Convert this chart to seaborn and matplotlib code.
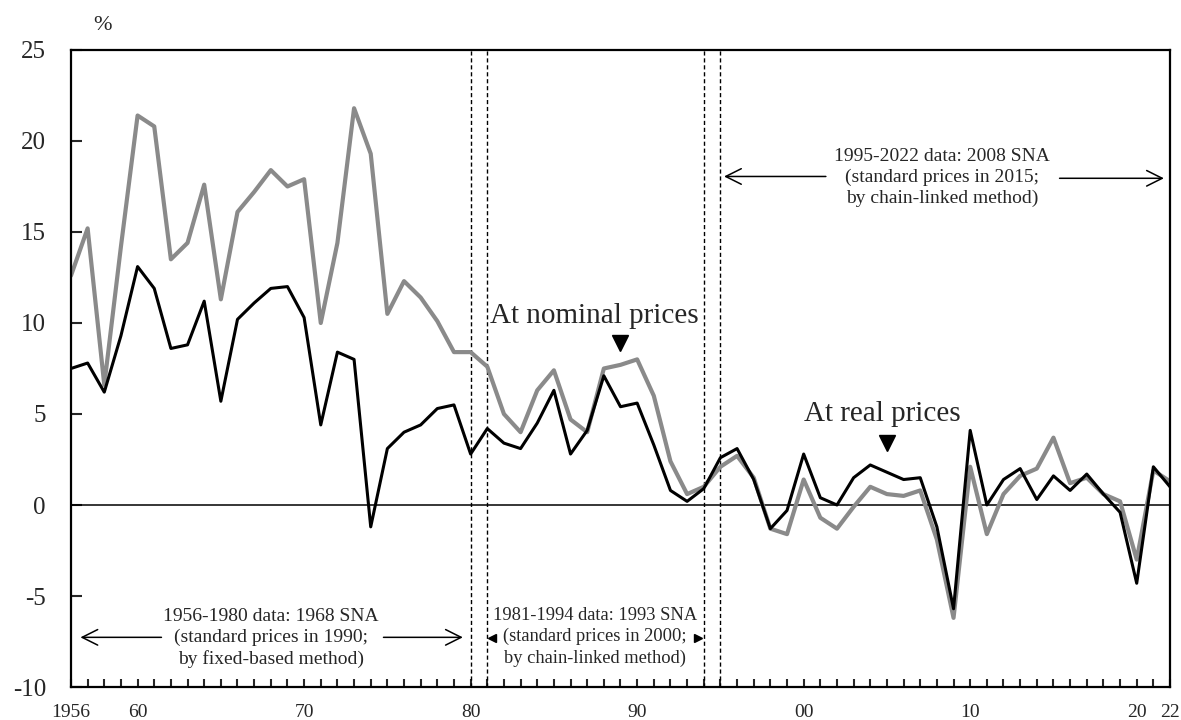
import matplotlib
matplotlib.use("Agg")
import matplotlib.pyplot as plt
import seaborn as sns
import pandas as pd

years = list(range(1956, 2023))

nominal = [12.6, 15.2, 6.6, 14.2, 21.4, 20.8, 13.5, 14.4, 17.6, 11.3,
           16.1, 17.2, 18.4, 17.5, 17.9, 10.0, 14.4, 21.8, 19.3, 10.5,
           12.3, 11.4, 10.1, 8.4, 8.4, 7.6, 5.0, 4.0, 6.3, 7.4,
           4.7, 4.0, 7.5, 7.7, 8.0, 6.0, 2.4, 0.6, 1.0, 2.1,
           2.7, 1.5, -1.3, -1.6, 1.4, -0.7, -1.3, -0.1, 1.0, 0.6,
           0.5, 0.8, -1.9, -6.2, 2.1, -1.6, 0.6, 1.6, 2.0, 3.7,
           1.2, 1.5, 0.6, 0.2, -3.0, 1.9, 1.3]

real = [7.5, 7.8, 6.2, 9.3, 13.1, 11.9, 8.6, 8.8, 11.2, 5.7,
        10.2, 11.1, 11.9, 12.0, 10.3, 4.4, 8.4, 8.0, -1.2, 3.1,
        4.0, 4.4, 5.3, 5.5, 2.8, 4.2, 3.4, 3.1, 4.5, 6.3,
        2.8, 4.1, 7.1, 5.4, 5.6, 3.3, 0.8, 0.2, 0.9, 2.6,
        3.1, 1.4, -1.3, -0.3, 2.8, 0.4, 0.0, 1.5, 2.2, 1.8,
        1.4, 1.5, -1.2, -5.7, 4.1, 0.0, 1.4, 2.0, 0.3, 1.6,
        0.8, 1.7, 0.6, -0.4, -4.3, 2.1, 1.0]

tick_labels = {1956: "1956", 1960: "60", 1970: "70", 1980: "80", 1990: "90",
               2000: "00", 2010: "10", 2020: "20", 2022: "22"}

breaks = [1980, 1981, 1994, 1995]

df = pd.DataFrame({"year": years, "nominal": nominal, "real": real})

sns.set_theme(style="ticks")
plt.rcParams["font.family"] = ["Liberation Serif", "DejaVu Serif"]

fig = plt.figure(figsize=(11.81, 7.2), dpi=100)
ax = fig.add_axes([0.0601, 0.0458, 0.9306, 0.8848])

sns.lineplot(data=df, x="year", y="nominal", color="#8a8a8a", lw=3.0, ax=ax)
sns.lineplot(data=df, x="year", y="real", color="black", lw=2.2, ax=ax)

ax.axhline(0, color="black", lw=1.1, zorder=1)
for b in breaks:
    ax.axvline(b, color="black", lw=1.0, ls=(0, (3, 2)), zorder=1)

ax.set_xlim(1956, 2022)
ax.set_ylim(-10, 25)
ax.set_yticks(range(-10, 26, 5))
ax.set_yticklabels([str(v) for v in range(-10, 26, 5)], fontsize=18)
ax.set_xticks(years)
ax.set_xticklabels([tick_labels.get(y, "") for y in years], fontsize=14)
ax.tick_params(axis="y", direction="in", length=8, width=1.5, pad=18)
ax.tick_params(axis="x", direction="in", length=6, width=1.5, pad=12)
ax.set_xlabel("")
ax.set_ylabel("")
for s in ax.spines.values():
    s.set_color("black")
    s.set_linewidth(1.6)

ax.text(0.029, 1.038, "%", transform=ax.transAxes, fontsize=16,
        ha="center", va="center")

# labels for the two series
ax.text(1987.45, 10.0, "At nominal prices", fontsize=21, ha="center", va="baseline")
ax.plot([1989], [8.9], marker="v", ms=12, color="black", ls="none")
ax.text(2004.7, 4.6, "At real prices", fontsize=21, ha="center", va="baseline")
ax.plot([2005], [3.4], marker="v", ms=12, color="black", ls="none")

# SNA period notes
note_kw = dict(ha="center", va="center", linespacing=1.3)
arrow = dict(arrowstyle="->", color="black", lw=1.1, mutation_scale=28)

ax.text(1968.0, -7.3, "1956-1980 data: 1968 SNA\n(standard prices in 1990;\nby fixed-based method)",
        fontsize=14, **note_kw)
ax.annotate("", xy=(1956.4, -7.27), xytext=(1961.6, -7.27), arrowprops=arrow)
ax.annotate("", xy=(1979.7, -7.27), xytext=(1974.6, -7.27), arrowprops=arrow)

ax.text(1987.45, -7.25, "1981-1994 data: 1993 SNA\n(standard prices in 2000;\nby chain-linked method)",
        fontsize=13.3, **note_kw)
ax.plot([1981.3], [-7.3], marker="<", ms=6, color="black", ls="none")
ax.plot([1993.65], [-7.3], marker=">", ms=6, color="black", ls="none")

ax.text(2008.3, 18.0, "1995-2022 data: 2008 SNA\n(standard prices in 2015;\nby chain-linked method)",
        fontsize=14, **note_kw)
ax.annotate("", xy=(1995.05, 18.05), xytext=(2001.5, 18.05), arrowprops=arrow)
ax.annotate("", xy=(2021.8, 17.95), xytext=(2015.2, 17.95), arrowprops=arrow)

fig.savefig("out.png", dpi=100)
